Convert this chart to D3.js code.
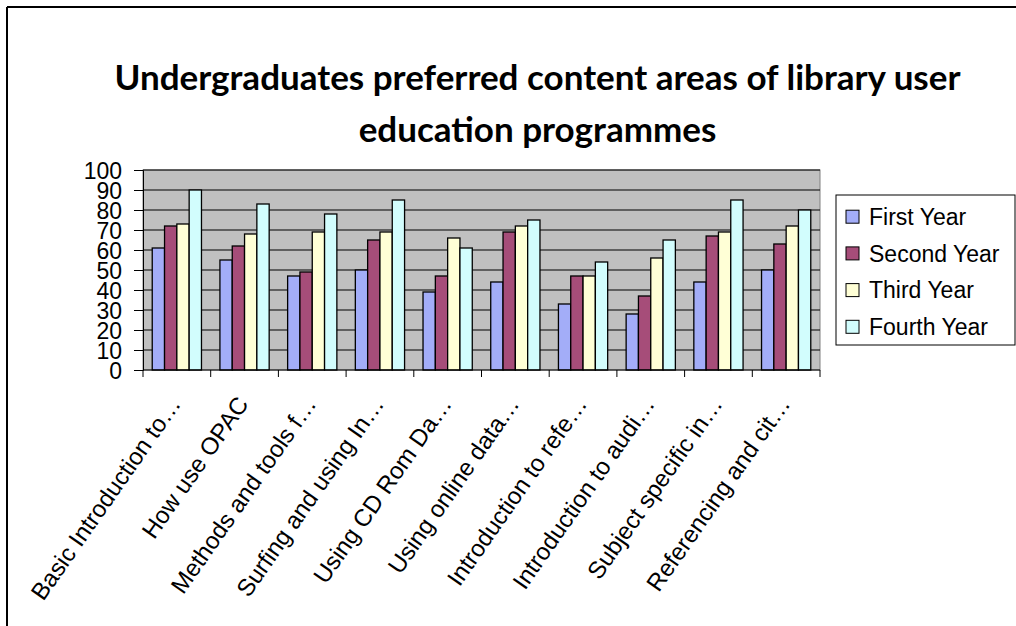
<!DOCTYPE html>
<html><head><meta charset="utf-8">
<script src="https://cdn.jsdelivr.net/npm/d3@7"></script>
<style>body{margin:0;background:#fff}svg{display:block}</style>
</head><body>
<svg id="chart" width="1016" height="626"></svg>
<script>
const categories = ["Basic Introduction to…","How use OPAC","Methods and tools f…","Surfing and using In…","Using CD Rom Da…","Using online data…","Introduction to refe…","Introduction to audi…","Subject specific in…","Referencing and cit…"];
const seriesNames = ["First Year","Second Year","Third Year","Fourth Year"];
const firstYear  = [61,55,47,50,39,44,33,28,44,50];
const secondYear = [72,62,49,65,47,69,47,37,67,63];
const thirdYear  = [73,68,69,69,66,72,47,56,69,72];
const fourthYear = [90,83,78,85,61,75,54,65,85,80];
const yTicks = [0,10,20,30,40,50,60,70,80,90,100];
const titleLines = ["Undergraduates preferred content areas of library user","education programmes"];
const seriesValues = [firstYear, secondYear, thirdYear, fourthYear];
const colors = ["#a3adf8","#a64d79","#ffffd6","#d2fdfd"];

const svg = d3.select("#chart");
const plot = {left:143, right:820, top:170, bottom:370};

// outer frame
svg.append("line").attr("x1",7).attr("y1",7).attr("x2",1016).attr("y2",7).attr("stroke","#000").attr("stroke-width",2);
svg.append("line").attr("x1",7).attr("y1",7).attr("x2",7).attr("y2",626).attr("stroke","#000").attr("stroke-width",2);

// title
svg.append("g").selectAll("text").data(titleLines).join("text")
  .attr("x",537.5).attr("y",(d,i)=>90+i*52)
  .attr("text-anchor","middle")
  .attr("font-family","Lato, 'Open Sans', sans-serif")
  .attr("font-weight","bold").attr("font-size",35)
  .text(d=>d);

const x0 = d3.scaleBand().domain(categories).range([plot.left, plot.right]).paddingInner(0).paddingOuter(0);
const x1 = d3.scaleBand().domain(seriesNames).range([0, x0.bandwidth()]).paddingInner(0).paddingOuter(0.75);
const y = d3.scaleLinear().domain([0,100]).range([plot.bottom, plot.top]);

// plot background
svg.append("rect").attr("x",plot.left).attr("y",plot.top).attr("width",plot.right-plot.left).attr("height",plot.bottom-plot.top)
  .attr("fill","#c0c0c0").attr("stroke","#808080").attr("stroke-width",1);

// gridlines
svg.append("g").selectAll("line").data(yTicks.filter(t=>t>0)).join("line")
  .attr("x1",plot.left).attr("x2",plot.right).attr("y1",d=>y(d)).attr("y2",d=>y(d))
  .attr("stroke","#000").attr("stroke-width",1);

// bars
const groups = svg.append("g").selectAll("g").data(categories).join("g")
  .attr("transform",d=>`translate(${x0(d)},0)`);
groups.selectAll("rect").data((d,i)=>seriesNames.map((s,j)=>({s, v:seriesValues[j][i], j})))
  .join("rect")
  .attr("x",d=>x1(d.s)).attr("width",x1.bandwidth())
  .attr("y",d=>y(d.v)).attr("height",d=>y(0)-y(d.v))
  .attr("fill",d=>colors[d.j]).attr("stroke","#000").attr("stroke-width",1.3);

// y axis
const yAxis = svg.append("g").attr("transform",`translate(${plot.left},0)`)
  .call(d3.axisLeft(y).tickValues(yTicks).tickSize(9).tickPadding(12));
yAxis.selectAll("text").attr("font-family","'Liberation Sans', Arial, sans-serif").attr("font-size",23).attr("fill","#000").attr("dy","0.36em");
yAxis.selectAll("line,path").attr("stroke","#000");

// x axis
const xAxis = svg.append("g").attr("transform",`translate(0,${plot.bottom})`);
xAxis.append("line").attr("x1",plot.left).attr("x2",plot.right).attr("stroke","#000");
const boundaries = categories.map(c=>x0(c)).concat([x0(categories[categories.length-1])+x0.bandwidth()]);
xAxis.selectAll("line.tick").data(boundaries).join("line").attr("class","tick")
  .attr("x1",d=>d).attr("x2",d=>d).attr("y1",0).attr("y2",7).attr("stroke","#000");
xAxis.selectAll("text").data(categories).join("text")
  .attr("transform",d=>`translate(${x0(d)+x0.bandwidth()/2+5},${34}) rotate(-55)`)
  .attr("text-anchor","end")
  .attr("font-family","'Liberation Sans', Arial, sans-serif").attr("font-size",24)
  .text(d=>d);

// legend
const lg = svg.append("g");
lg.append("rect").attr("x",836).attr("y",195).attr("width",179).attr("height",150).attr("fill","#fff").attr("stroke","#000");
const items = lg.selectAll("g").data(seriesNames).join("g")
  .attr("transform",(d,i)=>`translate(846,${216.7+i*36.7})`);
items.append("rect").attr("x",0).attr("y",-6.5).attr("width",13).attr("height",13)
  .attr("fill",(d,i)=>colors[i]).attr("stroke","#000");
items.append("text").attr("x",23).attr("y",0).attr("dy","0.36em")
  .attr("font-family","'Liberation Sans', Arial, sans-serif").attr("font-size",23).text(d=>d);
</script>
</body></html>
